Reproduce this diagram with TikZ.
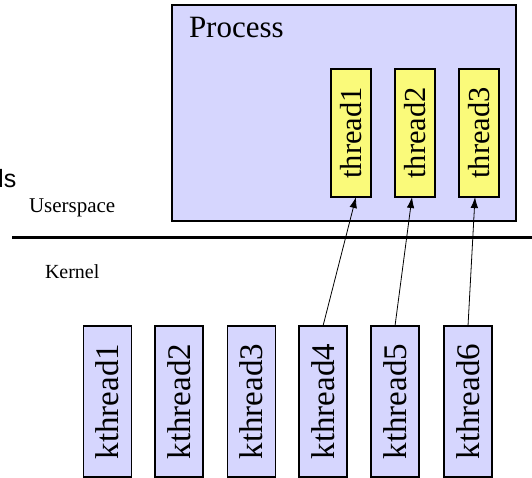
\documentclass[tikz,border=0pt]{standalone}
\usepackage{fontspec}
\setmainfont{Liberation Serif}
\newfontfamily\labelsans{Liberation Sans}
\usetikzlibrary{arrows.meta,calc}
\definecolor{boxblue}{RGB}{214,214,254}
\definecolor{boxyellow}{RGB}{250,250,122}
\tikzset{
  every node/.style={inner sep=0pt, outer sep=0pt},
  threadbox/.style={draw=black, line width=1.1pt, fill=boxyellow,
    minimum width=40pt, minimum height=128pt,
    font=\fontsize{30.5}{30.5}\selectfont},
  kbox/.style={draw=black, line width=1.1pt, fill=boxblue,
    minimum width=48pt, minimum height=151pt,
    font=\fontsize{33}{33}\selectfont},
  mapping/.style={line width=0.8pt, -{Latex[length=11pt,width=7.5pt]}},
}
\begin{document}
\begin{tikzpicture}[x=1pt,y=-1pt]
  \useasboundingbox (0,0) rectangle (532,478);

  % the process and its user threads
  \node[draw=black, line width=1.1pt, fill=boxblue, minimum width=344pt,
        minimum height=216pt] (proc) at (344,113) {};
  \node[anchor=base west, font=\fontsize{31}{31}\selectfont] (ptitle) at (189,38) {Process};
  \node[threadbox] (t1) at (351,133) {\rotatebox{90}{thread1}};
  \node[threadbox] (t2) at (415,133) {\rotatebox{90}{thread2}};
  \node[threadbox] (t3) at (479,133) {\rotatebox{90}{thread3}};

  % user/kernel boundary
  \coordinate (bl) at (12,237.5);
  \coordinate (br) at (532,237.5);
  \draw[line width=3.6pt] (bl) -- (br);
  \node[anchor=base west, font=\labelsans\fontsize{25}{25}\selectfont] (cut) at (-10,188) {ds};
  \node[anchor=base west, font=\fontsize{21}{21}\selectfont] (us) at (29,213) {Userspace};
  \node[anchor=base west, font=\fontsize{20}{20}\selectfont] (kn) at (45,278) {Kernel};

  % kernel threads
  \node[kbox] (k1) at (107.5,401.5) {\rotatebox{90}{kthread1}};
  \node[kbox] (k2) at (179,401.5) {\rotatebox{90}{kthread2}};
  \node[kbox] (k3) at (251.5,401.5) {\rotatebox{90}{kthread3}};
  \node[kbox] (k4) at (323,401.5) {\rotatebox{90}{kthread4}};
  \node[kbox] (k5) at (395,401.5) {\rotatebox{90}{kthread5}};
  \node[kbox] (k6) at (468,401.5) {\rotatebox{90}{kthread6}};

  % one-to-one mapping of kernel threads onto user threads
  \draw[mapping] (k4.north) -- ($(t1.south)+(5,0)$);
  \draw[mapping] (k5.north) -- ($(t2.south)+(-3,0)$);
  \draw[mapping] (k6.north) -- ($(t3.south)+(-4,0)$);
\end{tikzpicture}
\end{document}
